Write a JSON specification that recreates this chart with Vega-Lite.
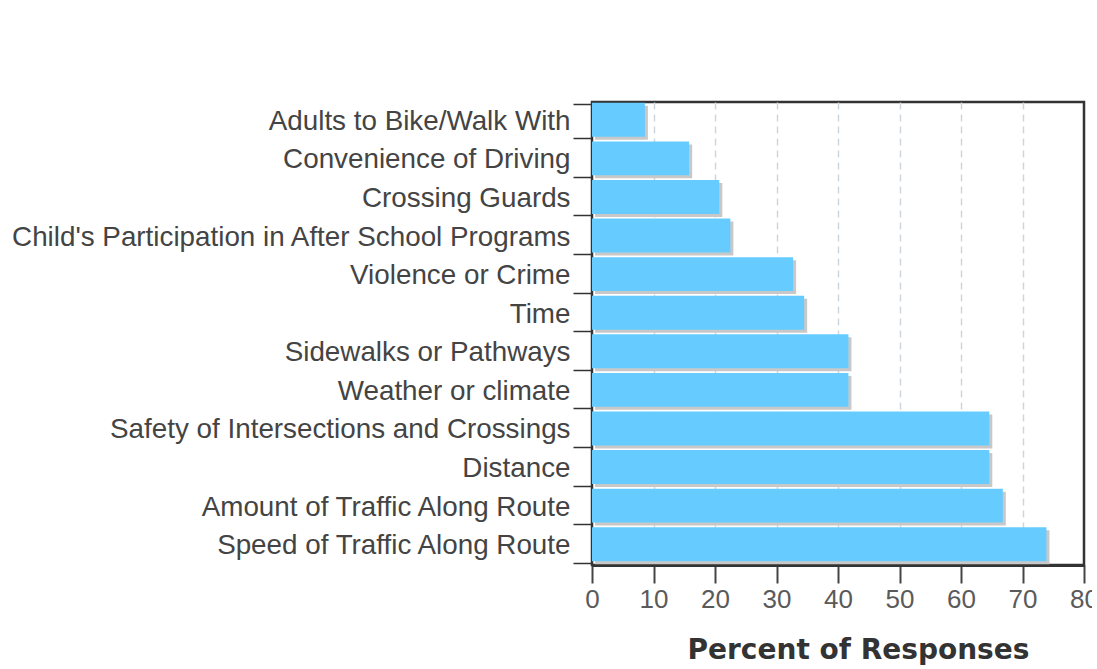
{
  "$schema": "https://vega.github.io/schema/vega-lite/v6.json",
  "width": 492,
  "height": 463,
  "autosize": {"type": "none"},
  "padding": {"left": 592, "top": 102, "right": 8, "bottom": 104},
  "background": "white",
  "config": {
    "view": {"stroke": "#333333", "strokeWidth": 2.5}
  },
  "data": {
    "values": [
      {"reason": "Adults to Bike/Walk With", "pct": 8.6},
      {"reason": "Convenience of Driving", "pct": 15.8},
      {"reason": "Crossing Guards", "pct": 20.7},
      {"reason": "Child's Participation in After School Programs", "pct": 22.5},
      {"reason": "Violence or Crime", "pct": 32.7},
      {"reason": "Time", "pct": 34.5},
      {"reason": "Sidewalks or Pathways", "pct": 41.7},
      {"reason": "Weather or climate", "pct": 41.7},
      {"reason": "Safety of Intersections and Crossings", "pct": 64.6},
      {"reason": "Distance", "pct": 64.6},
      {"reason": "Amount of Traffic Along Route", "pct": 66.8},
      {"reason": "Speed of Traffic Along Route", "pct": 73.9}
    ]
  },
  "encoding": {
    "y": {
      "field": "reason",
      "type": "nominal",
      "sort": null,
      "scale": {"paddingInner": 0.12, "paddingOuter": 0.06},
      "axis": {
        "title": null,
        "domain": false,
        "grid": false,
        "ticks": true,
        "tickBand": "extent",
        "tickSize": 19,
        "tickColor": "#333333",
        "tickWidth": 1.5,
        "labelFont": "Liberation Sans",
        "labelFontSize": 27.8,
        "labelColor": "#444444",
        "labelPadding": 3,
        "labelLimit": 700
      }
    },
    "x": {
      "field": "pct",
      "type": "quantitative",
      "scale": {"domain": [0, 80], "nice": false},
      "axis": {
        "title": "Percent of Responses",
        "titleFont": "DejaVu Sans",
        "titleFontWeight": "bold",
        "titleFontSize": 28,
        "titleColor": "#333333",
        "titleX": 266,
        "titleY": 93,
        "titleBaseline": "alphabetic",
        "values": [0, 10, 20, 30, 40, 50, 60, 70, 80],
        "domain": true,
        "domainColor": "#333333",
        "domainWidth": 3,
        "ticks": true,
        "tickSize": 18,
        "tickWidth": 2,
        "tickColor": "#444444",
        "labelFont": "Liberation Sans",
        "labelFontSize": 26,
        "labelColor": "#5a5a5a",
        "labelPadding": 3,
        "labelFlush": false,
        "grid": true,
        "gridColor": "#cdd5de",
        "gridDash": [7, 5],
        "gridWidth": 1.5,
        "gridOpacity": {"condition": {"test": "datum.value === 0 || datum.value === 80", "value": 0}, "value": 1}
      }
    }
  },
  "layer": [
    {
      "mark": {"type": "bar", "color": "#c8c8c8", "xOffset": 3, "yOffset": 1.5}
    },
    {
      "mark": {"type": "bar", "color": "#66CCFF", "yOffset": -1.5}
    }
  ]
}
